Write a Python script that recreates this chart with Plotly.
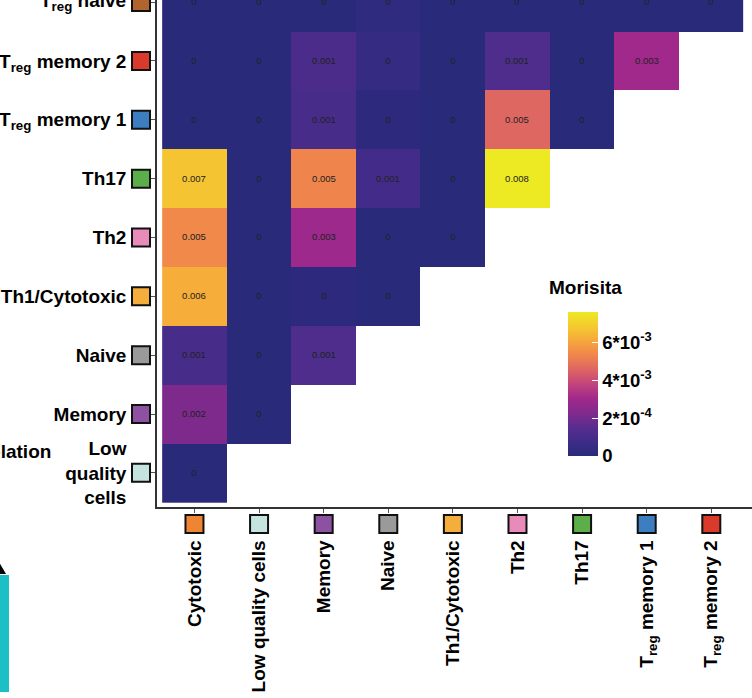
import plotly.graph_objects as go

# ---------------- data ----------------
col_labels = ["Cytotoxic", "Low quality cells", "Memory", "Naive", "Th1/Cytotoxic",
              "Th2", "Th17", "T<sub>reg</sub> memory 1", "T<sub>reg</sub> memory 2"]
col_colors = ["#EE8532", "#C5E4DF", "#8C52A1", "#9A9A9A", "#F5AE3B",
              "#E88BBA", "#5CAE4A", "#3C7EC0", "#D93A2C"]

row_labels = ["Low<br>quality<br>cells", "Memory", "Naive", "Th1/Cytotoxic", "Th2", "Th17",
              "T<sub>reg</sub> memory 1", "T<sub>reg</sub> memory 2", "T<sub>reg</sub> naive"]
row_colors = ["#C5E4DF", "#8C52A1", "#9A9A9A", "#F5AE3B", "#E88BBA", "#5CAE4A",
              "#3C7EC0", "#D93A2C", "#B0652E"]

# Morisita overlap values, rows bottom -> top, columns left -> right
low_quality = [0.0]
memory = [0.0022, 0.0]
naive = [0.0010, 0.0, 0.0012]
th1_cytotoxic = [0.0062, 0.0, 0.0001, 0.0]
th2 = [0.0054, 0.0, 0.0029, 0.0, 0.0]
th17 = [0.0067, 0.0, 0.0053, 0.0009, 0.0, 0.0076]
treg_memory1 = [0.0, 0.0, 0.0010, 0.0001, 0.0, 0.0046, 0.0]
treg_memory2 = [0.0, 0.0, 0.0011, 0.0004, 0.0, 0.0012, 0.0, 0.0030]
treg_naive = [0.0, 0.0, 0.0, 0.0002, 0.0, 0.0, 0.0, 0.0, 0.0]

rows = [low_quality, memory, naive, th1_cytotoxic, th2, th17,
        treg_memory1, treg_memory2, treg_naive]

cbar_tickvals = [0, 0.002, 0.004, 0.006]
cbar_ticktext = ["0", "2*10<sup>-4</sup>", "4*10<sup>-3</sup>", "6*10<sup>-3</sup>"]
zmax = 0.0076

# ---------------- build ----------------
ncol = len(col_labels)
nrow = len(rows)
z = [r + [None] * (ncol - len(r)) for r in rows]

W, H = 752, 698
ML, MR, MT, MB = 157, 0, 0, 191
PW, PH = W - ML - MR, H - MT - MB


def px_x(px):
    return (px - ML) / PW


def px_y(py):
    return (H - MB - py) / PH


FONT = "Liberation Sans, Arial, Helvetica, sans-serif"
LABEL_FONT = dict(size=19, family=FONT, color="black", weight="bold")

plasma_like = [
    [0.00, "#2A2A7B"], [0.10, "#3E2C88"], [0.20, "#5A2D8F"], [0.30, "#822A8D"],
    [0.40, "#A2298B"], [0.50, "#C2447D"], [0.60, "#DE6563"], [0.70, "#EF854C"],
    [0.80, "#F6A73C"], [0.90, "#F5CA30"], [1.00, "#EDE923"],
]

cb_len = 144
cb_center_px = 384

fig = go.Figure(go.Heatmap(
    z=z, x=list(range(ncol)), y=list(range(nrow)),
    zmin=0, zmax=zmax, colorscale=plasma_like,
    texttemplate="%{z:.3~f}", textfont=dict(size=9.5, color="#222222", family=FONT),
    hoverongaps=False, xgap=0, ygap=0,
    colorbar=dict(
        x=px_x(568), xanchor="left", xpad=0,
        y=px_y(cb_center_px), yanchor="middle", ypad=0,
        len=cb_len, lenmode="pixels", thickness=30, thicknessmode="pixels",
        outlinewidth=0,
        tickvals=cbar_tickvals, ticktext=cbar_ticktext,
        ticks="inside", ticklen=6, tickcolor="white", tickwidth=1,
        tickfont=dict(size=18.5, family=FONT, color="black", weight="bold"),
    ),
))

shapes = []
for i, c in enumerate(col_colors):
    shapes.append(dict(type="rect", xref="x", xsizemode="pixel", xanchor=i, x0=-9, x1=9,
                       yref="paper", ysizemode="pixel", yanchor=0, y0=-26, y1=-8,
                       fillcolor=c, line=dict(color="#111111", width=2)))
for j, c in enumerate(row_colors):
    shapes.append(dict(type="rect", xref="paper", xsizemode="pixel", xanchor=0, x0=-25, x1=-7,
                       yref="y", ysizemode="pixel", yanchor=j, y0=-9, y1=9,
                       fillcolor=c, line=dict(color="#111111", width=2)))

# left-side white tick marks on the colour bar (ggplot draws ticks on both sides)
cb_bottom_px = cb_center_px + cb_len / 2
for v in cbar_tickvals[1:]:
    py = cb_bottom_px - v / zmax * cb_len
    shapes.append(dict(type="line", xref="paper", yref="paper",
                       x0=px_x(568), x1=px_x(574), y0=px_y(py), y1=px_y(py),
                       line=dict(color="white", width=1)))

# fragments of the neighbouring panel at the left edge
shapes.append(dict(type="rect", xref="paper", yref="paper",
                   x0=px_x(-2), x1=px_x(9), y0=px_y(575), y1=px_y(692),
                   fillcolor="#1CBFC5", line=dict(width=0)))
shapes.append(dict(type="path", xref="paper", yref="paper",
                   path=f"M {px_x(-1)},{px_y(562)} L {px_x(6)},{px_y(574)} L {px_x(-1)},{px_y(574)} Z",
                   fillcolor="black", line=dict(width=0)))

# the top row label sits at the cropped top edge; plotly drops that tick label, so draw it as text
ytick_text = row_labels[:-1] + [""]
annotations = [
    dict(text=row_labels[-1], xref="paper", yref="y", x=px_x(128), y=nrow - 1,
         xanchor="right", yanchor="middle", showarrow=False, font=LABEL_FONT),
    dict(text="Morisita", xref="paper", yref="paper", x=px_x(547), y=px_y(287),
         xanchor="left", yanchor="middle", showarrow=False,
         font=dict(size=19, family=FONT, color="black", weight="bold")),
    dict(text="Correlation", xref="paper", yref="paper", x=px_x(53), y=px_y(451),
         xanchor="right", yanchor="middle", showarrow=False,
         font=dict(size=19, family=FONT, color="black", weight="bold")),
]

fig.update_layout(
    width=W, height=H, margin=dict(l=ML, r=MR, t=MT, b=MB, autoexpand=False),
    paper_bgcolor="white", plot_bgcolor="white",
    shapes=shapes, annotations=annotations,
    font=dict(family=FONT, color="black"),
    xaxis=dict(range=[-0.58, 8.63], tickvals=list(range(ncol)), ticktext=col_labels,
               tickangle=-90, ticks="outside", ticklen=4, tickcolor="#555555",
               showline=True, linecolor="#333333", linewidth=1.5, automargin=False,
               showgrid=False, zeroline=False, ticklabelstandoff=20,
               tickfont=LABEL_FONT),
    yaxis=dict(range=[-0.58, 8.036], tickvals=list(range(nrow)), ticktext=ytick_text,
               ticks="outside", ticklen=4, tickcolor="#555555",
               showline=True, linecolor="#333333", linewidth=1.5, automargin=False,
               showgrid=False, zeroline=False, ticklabelstandoff=21,
               tickfont=LABEL_FONT),
)

fig.write_html("out.html", config={"displayModeBar": False},
               post_script="document.body.style.margin='0px';document.body.style.overflow='hidden';")
